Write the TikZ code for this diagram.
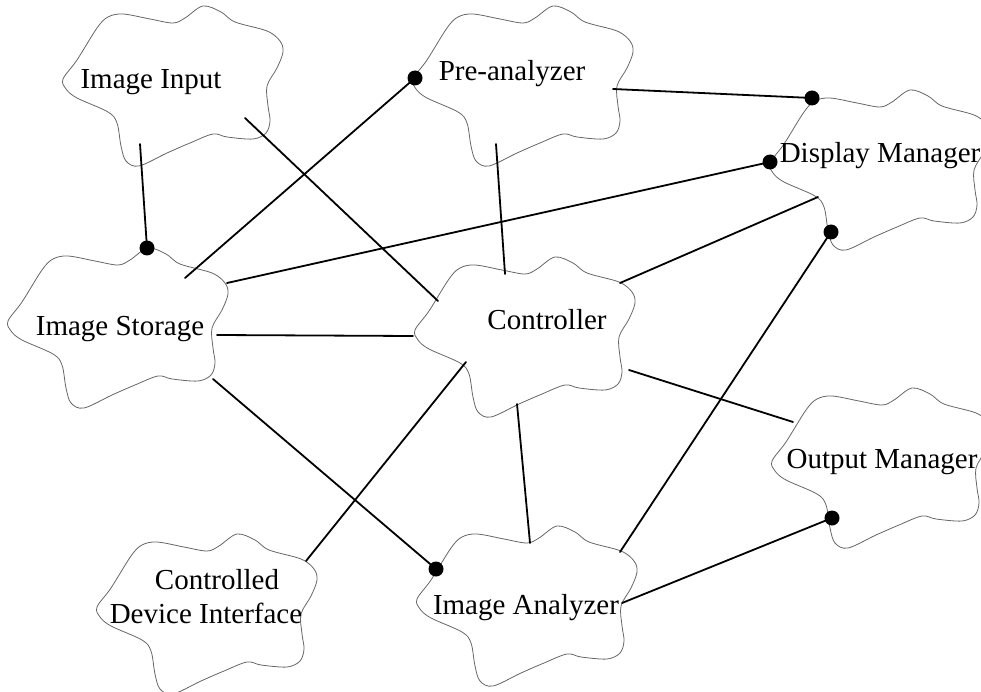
\documentclass[tikz,border=0pt]{standalone}
\usepackage{fontspec}
\setmainfont{Liberation Serif}
\tikzset{
  cloudline/.style={draw=black!60, line width=0.8pt},
  conn/.style={line width=1.8pt, line cap=round},
  enddot/.style={fill=black},
  lbl/.style={font=\fontsize{29}{34}\selectfont, inner sep=0pt, anchor=base},
  cloudpic/.pic={
    \draw[cloudline] plot[smooth cycle, tension=0.55] coordinates {
      (0,73) (14,54) (34,22) (45,11) (60,8) (87,13) (110,17) (122,12) (140,0)
      (158,6) (172,16) (204,25) (217,35) (220,46) (214,62) (204,80) (205,100)
      (207,115) (203,127) (190,133) (164,131) (150,128) (127,137) (104,147)
      (76,160) (63,155) (58,140) (54,117) (45,106) (14,92) (3,83)};
  }
}
\begin{document}
\begin{tikzpicture}[x=1pt,y=-1pt]
\useasboundingbox (0,0) rectangle (981,692);
\clip (0,0) rectangle (981,692);
% clouds
\pic at (63,6) {cloudpic};
\pic at (413,6) {cloudpic};
\pic at (770,90) {cloudpic};
\pic at (8,248) {cloudpic};
\pic at (415,257) {cloudpic};
\pic at (772,388) {cloudpic};
\pic at (97,534) {cloudpic};
\pic at (417,526) {cloudpic};
% labels
\node[lbl] (ii) at (151,89) {Image Input};
\node[lbl] (pa) at (512,81) {Pre-analyzer};
\node[lbl] (dm) at (880,163) {Display Manager};
\node[lbl] (is) at (120,335) {Image Storage};
\node[lbl] (ct) at (547,329) {Controller};
\node[lbl] (om) at (882,468) {Output Manager};
\node[lbl] (cdi) at (217,589) {Controlled};
\node[lbl] (cdi2) at (206,623) {Device Interface};
\node[lbl] (ia) at (526,614) {Image Analyzer};
% connector end points
\coordinate (ii-is) at (140,144);
\coordinate (is-ii) at (147,248);
\coordinate (ii-ct) at (245,118);
\coordinate (ct-ii) at (438,301);
\coordinate (is-pa) at (185,278);
\coordinate (pa-is) at (415,78);
\coordinate (is-dm) at (227,283);
\coordinate (dm-is) at (770,162);
\coordinate (is-ct) at (217,335);
\coordinate (ct-is) at (413,336);
\coordinate (is-ia) at (213,379);
\coordinate (ia-is) at (436,569);
\coordinate (pa-dm) at (613,89);
\coordinate (dm-pa) at (812,98);
\coordinate (pa-ct) at (496,144);
\coordinate (ct-pa) at (505,274);
\coordinate (ct-dm) at (620,283);
\coordinate (dm-ct) at (818,197);
\coordinate (ct-om) at (629,370);
\coordinate (om-ct) at (793,422);
\coordinate (ct-ia) at (517,404);
\coordinate (ia-ct) at (530,543);
\coordinate (ct-cdi) at (466,362);
\coordinate (cdi-ct) at (306,561);
\coordinate (ia-dm) at (620,552);
\coordinate (dm-ia) at (831,232);
\coordinate (ia-om) at (622,603);
\coordinate (om-ia) at (832,518);
% connectors
\draw[conn] (ii-is) -- (is-ii);
\draw[conn] (ii-ct) -- (ct-ii);
\draw[conn] (is-pa) -- (pa-is);
\draw[conn] (is-dm) -- (dm-is);
\draw[conn] (is-ct) -- (ct-is);
\draw[conn] (is-ia) -- (ia-is);
\draw[conn] (pa-dm) -- (dm-pa);
\draw[conn] (pa-ct) -- (ct-pa);
\draw[conn] (ct-dm) -- (dm-ct);
\draw[conn] (ct-om) -- (om-ct);
\draw[conn] (ct-ia) -- (ia-ct);
\draw[conn] (ct-cdi) -- (cdi-ct);
\draw[conn] (ia-dm) -- (dm-ia);
\draw[conn] (ia-om) -- (om-ia);
% dots
\foreach \p in {is-ii, pa-is, dm-is, ia-is, dm-pa, dm-ia, om-ia}
  \fill[enddot] (\p) circle[radius=7.5pt];
\end{tikzpicture}
\end{document}
